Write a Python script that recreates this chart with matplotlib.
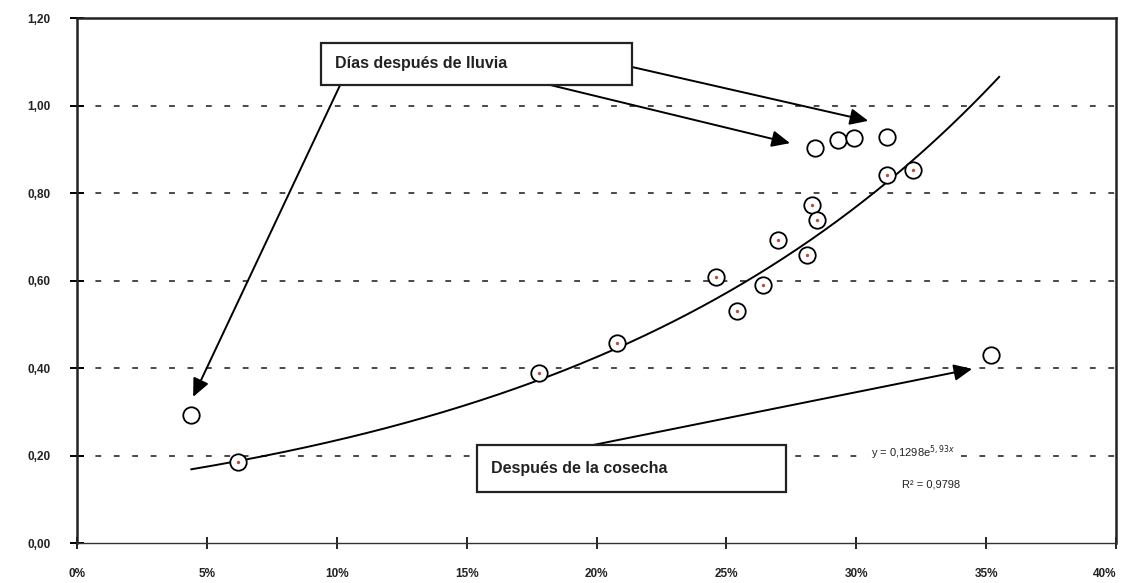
import numpy as np
import matplotlib.pyplot as plt
from matplotlib.patches import Rectangle
from matplotlib.ticker import FuncFormatter

plt.rcParams['font.family'] = ['Liberation Sans', 'DejaVu Sans']

# humedad (fracción) vs. valor medido
humedad = [0.044, 0.062, 0.178, 0.208, 0.246, 0.254, 0.264, 0.270, 0.281,
           0.283, 0.285, 0.284, 0.293, 0.299, 0.312, 0.312, 0.322, 0.352]
valor = [0.293, 0.185, 0.389, 0.457, 0.608, 0.530, 0.590, 0.693, 0.658,
         0.773, 0.738, 0.903, 0.921, 0.926, 0.928, 0.841, 0.853, 0.430]
# puntos con marca roja en el centro
marcados = [1, 2, 3, 4, 5, 6, 7, 8, 9, 10, 15, 16]

# ajuste exponencial
coef_a = 0.1298
coef_b = 5.93
r2 = 0.9798

y_ticks = [0.0, 0.2, 0.4, 0.6, 0.8, 1.0, 1.2]
x_ticks = [0.0, 0.05, 0.10, 0.15, 0.20, 0.25, 0.30, 0.35, 0.40]

fig = plt.figure(figsize=(11.23, 5.83), dpi=100)
ax = fig.add_axes([0.0686, 0.0686, 0.9252, 0.9005])
ax.set_xlim(0, 0.40)
ax.set_ylim(0, 1.20)

# líneas de cuadrícula discontinuas
for yv in y_ticks[1:-1]:
    ax.axhline(yv, color='#3a3a3a', lw=1.3, ls=(0, (3.2, 7)), zorder=1)

# línea de tendencia
xs = np.linspace(min(humedad), 0.355, 300)
ax.plot(xs, coef_a * np.exp(coef_b * xs), color='black', lw=1.4, zorder=3)

ax.scatter(humedad, valor, s=140, facecolor='white', edgecolor='black',
           linewidth=1.3, zorder=4)
ax.scatter([humedad[i] for i in marcados], [valor[i] for i in marcados],
           s=6, color='#b5523a', zorder=5, linewidths=0)

ax.set_xticks(x_ticks)
ax.set_yticks(y_ticks)
ax.xaxis.set_major_formatter(FuncFormatter(lambda v, p: f"{v * 100:.0f}%"))
ax.yaxis.set_major_formatter(FuncFormatter(lambda v, p: f"{v:.2f}".replace('.', ',')))
ax.tick_params(axis='x', direction='inout', length=8, width=1.2, pad=14,
               labelsize=8.5)
ax.tick_params(axis='y', direction='inout', length=10, width=1.4, pad=14,
               labelsize=8.5)
for lab in ax.get_xticklabels() + ax.get_yticklabels():
    lab.set_fontweight('bold')
    lab.set_color('#222222')
ax.get_xticklabels()[-1].set_horizontalalignment('right')

for side in ['left', 'top', 'right']:
    ax.spines[side].set_linewidth(1.8)
    ax.spines[side].set_color('#222222')
ax.spines['bottom'].set_linewidth(1.0)
ax.spines['bottom'].set_color('#333333')

# cuadros de texto
cajas = [((0.094, 1.047), 0.1197, 0.096, "Días después de lluvia"),
         ((0.154, 0.117), 0.119, 0.107, "Después de la cosecha")]
for (x0, y0), w, h, txt in cajas:
    ax.add_patch(Rectangle((x0, y0), w, h, facecolor='white', edgecolor='#222222',
                           lw=1.6, zorder=6))
    ax.text(x0 + 0.0055, y0 + h / 2, txt, fontsize=11.5, fontweight='bold',
            color='#222222', ha='left', va='center', zorder=7)

# flechas
flechas = [((0.1013, 1.047), (0.0447, 0.334)),
           ((0.2137, 1.088), (0.3046, 0.965)),
           ((0.1821, 1.047), (0.2745, 0.914)),
           ((0.1987, 0.224), (0.3446, 0.398))]
for inicio, fin in flechas:
    ax.annotate('', xy=fin, xytext=inicio, zorder=5,
                arrowprops=dict(arrowstyle='-|>,head_length=1.1,head_width=0.5',
                                color='black', lw=1.4, shrinkA=0, shrinkB=0))

# ecuación del ajuste
ax.text(0.3055, 0.207, f"y = {coef_a:.4f}".replace('.', ',') +
        f"e$^{{{coef_b:.2f}x}}$".replace('.', ','),
        fontsize=8, color='#222222', ha='left', va='center', zorder=6,
        bbox=dict(facecolor='white', edgecolor='none', pad=1))
ax.text(0.3175, 0.133, f"R² = {r2:.4f}".replace('.', ','),
        fontsize=8, color='#222222', ha='left', va='center', zorder=6)

fig.savefig('out.png', dpi=100)
